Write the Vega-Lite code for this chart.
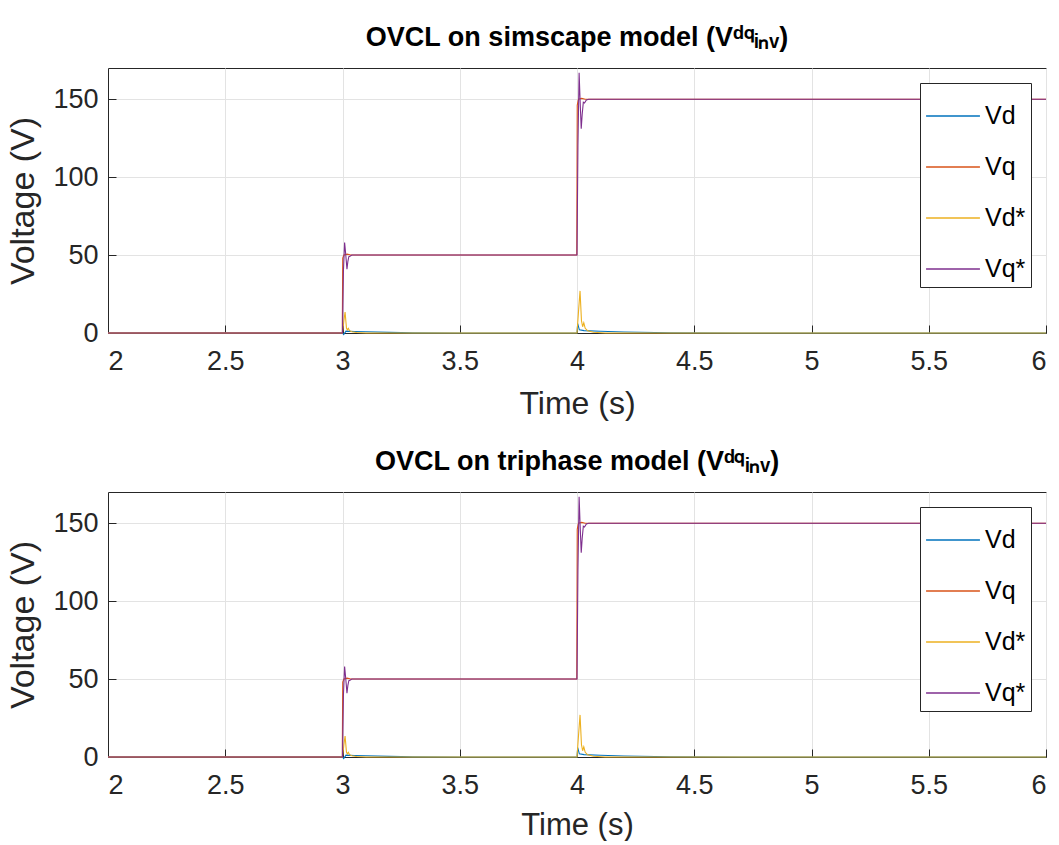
{
  "$schema": "https://vega.github.io/schema/vega-lite/v6.json",
  "background": "white",
  "padding": {"left": 6, "top": 23, "right": 3, "bottom": 0},
  "spacing": 27,
  "config": {
    "font": "Liberation Sans",
    "view": {"stroke": "#262626", "strokeWidth": 1},
    "axis": {
      "labelFont": "Liberation Sans",
      "titleFont": "Liberation Sans",
      "labelFontSize": 27,
      "titleFontSize": 32,
      "labelColor": "#262626",
      "titleColor": "#262626",
      "titleFontWeight": "normal",
      "domainColor": "#262626",
      "gridColor": "#e3e3e3",
      "tickColor": "#262626",
      "ticks": true,
      "tickSize": -8
    },
    "title": {"font": "Liberation Sans", "fontSize": 27, "fontWeight": "bold", "color": "#000000", "anchor": "middle", "frame": "group", "offset": 16},
    "legend": {
      "orient": "top-right",
      "offset": 15,
      "strokeColor": "#262626",
      "fillColor": "white",
      "padding": 5,
      "symbolType": "stroke",
      "symbolSize": 2900,
      "symbolStrokeWidth": 1.3,
      "labelFont": "Liberation Sans",
      "labelFontSize": 25,
      "labelColor": "#000000",
      "rowPadding": 10,
      "labelOffset": 4,
      "title": null
    }
  },
  "resolve": {"scale": {"color": "independent"}, "legend": {"color": "independent"}},
  "datasets": {
    "vdq": [
      {"t": 2, "s": "Vd", "v": 0},
      {"t": 3.0, "s": "Vd", "v": 0},
      {"t": 3.005, "s": "Vd", "v": -1},
      {"t": 3.015, "s": "Vd", "v": 1.2},
      {"t": 3.05, "s": "Vd", "v": 1},
      {"t": 3.1, "s": "Vd", "v": 0.8},
      {"t": 3.2, "s": "Vd", "v": 0.4},
      {"t": 3.3, "s": "Vd", "v": 0.1},
      {"t": 3.5, "s": "Vd", "v": 0},
      {"t": 4.0, "s": "Vd", "v": 0},
      {"t": 4.003, "s": "Vd", "v": 6},
      {"t": 4.01, "s": "Vd", "v": 2},
      {"t": 4.03, "s": "Vd", "v": 1.5},
      {"t": 4.1, "s": "Vd", "v": 1.1},
      {"t": 4.2, "s": "Vd", "v": 0.6},
      {"t": 4.4, "s": "Vd", "v": 0.2},
      {"t": 4.7, "s": "Vd", "v": 0},
      {"t": 6, "s": "Vd", "v": 0},

      {"t": 2, "s": "Vq", "v": 0},
      {"t": 2.999, "s": "Vq", "v": 0},
      {"t": 3.001, "s": "Vq", "v": 48},
      {"t": 3.006, "s": "Vq", "v": 50},
      {"t": 3.02, "s": "Vq", "v": 50.6},
      {"t": 3.035, "s": "Vq", "v": 50},
      {"t": 3.999, "s": "Vq", "v": 50},
      {"t": 4.001, "s": "Vq", "v": 146},
      {"t": 4.006, "s": "Vq", "v": 150},
      {"t": 4.02, "s": "Vq", "v": 150.5},
      {"t": 4.035, "s": "Vq", "v": 150},
      {"t": 6, "s": "Vq", "v": 150},

      {"t": 2, "s": "Vd*", "v": 0},
      {"t": 3.0, "s": "Vd*", "v": 0},
      {"t": 3.006, "s": "Vd*", "v": 8},
      {"t": 3.011, "s": "Vd*", "v": 13.5},
      {"t": 3.017, "s": "Vd*", "v": 3},
      {"t": 3.021, "s": "Vd*", "v": 2},
      {"t": 3.025, "s": "Vd*", "v": 3},
      {"t": 3.03, "s": "Vd*", "v": 1.5},
      {"t": 3.04, "s": "Vd*", "v": 0.8},
      {"t": 3.06, "s": "Vd*", "v": 0.3},
      {"t": 3.1, "s": "Vd*", "v": 0},
      {"t": 4.0, "s": "Vd*", "v": 0},
      {"t": 4.007, "s": "Vd*", "v": 15},
      {"t": 4.013, "s": "Vd*", "v": 27},
      {"t": 4.019, "s": "Vd*", "v": 8},
      {"t": 4.024, "s": "Vd*", "v": 4},
      {"t": 4.029, "s": "Vd*", "v": 6.5},
      {"t": 4.035, "s": "Vd*", "v": 3},
      {"t": 4.045, "s": "Vd*", "v": 1.5},
      {"t": 4.07, "s": "Vd*", "v": 0.5},
      {"t": 4.12, "s": "Vd*", "v": 0},
      {"t": 6, "s": "Vd*", "v": 0},

      {"t": 2, "s": "Vq*", "v": 0},
      {"t": 3.0, "s": "Vq*", "v": 0},
      {"t": 3.004, "s": "Vq*", "v": 40},
      {"t": 3.009, "s": "Vq*", "v": 58},
      {"t": 3.014, "s": "Vq*", "v": 50},
      {"t": 3.019, "s": "Vq*", "v": 41},
      {"t": 3.023, "s": "Vq*", "v": 46},
      {"t": 3.027, "s": "Vq*", "v": 49},
      {"t": 3.032, "s": "Vq*", "v": 49.2},
      {"t": 3.04, "s": "Vq*", "v": 50},
      {"t": 4.0, "s": "Vq*", "v": 50},
      {"t": 4.004, "s": "Vq*", "v": 120},
      {"t": 4.009, "s": "Vq*", "v": 167},
      {"t": 4.013, "s": "Vq*", "v": 150},
      {"t": 4.018, "s": "Vq*", "v": 131},
      {"t": 4.022, "s": "Vq*", "v": 140},
      {"t": 4.027, "s": "Vq*", "v": 148},
      {"t": 4.032, "s": "Vq*", "v": 147.5},
      {"t": 4.04, "s": "Vq*", "v": 149.5},
      {"t": 4.05, "s": "Vq*", "v": 150},
      {"t": 6, "s": "Vq*", "v": 150}
    ]
  },
  "vconcat": [
    {
      "title": {"text": "OVCL on simscape model (Vᵈ𐞥ᵢₙᵥ)"},
      "width": 938,
      "height": 265,
      "data": {"name": "vdq"},
      "mark": {"type": "line", "strokeWidth": 1.1},
      "encoding": {
        "x": {"field": "t", "type": "quantitative", "title": "Time (s)",
              "scale": {"domain": [2, 6], "nice": false, "zero": false},
              "axis": {"values": [2, 2.5, 3, 3.5, 4, 4.5, 5, 5.5, 6], "format": "~g", "labelPadding": 23, "titlePadding": 14}},
        "y": {"field": "v", "type": "quantitative", "title": "Voltage (V)",
              "scale": {"domain": [0, 170], "nice": false},
              "axis": {"values": [0, 50, 100, 150], "labelPadding": 18, "titlePadding": 12, "titleFontSize": 34}},
        "color": {"field": "s", "type": "nominal",
                  "scale": {"domain": ["Vd", "Vq", "Vd*", "Vq*"], "range": ["#0072BD", "#D95319", "#EDB120", "#7E2F8E"]},
                  "legend": {}}
      }
    },
    {
      "title": {"text": "OVCL on triphase model (Vᵈ𐞥ᵢₙᵥ)"},
      "width": 938,
      "height": 265,
      "data": {"name": "vdq"},
      "mark": {"type": "line", "strokeWidth": 1.1},
      "encoding": {
        "x": {"field": "t", "type": "quantitative", "title": "Time (s)",
              "scale": {"domain": [2, 6], "nice": false, "zero": false},
              "axis": {"values": [2, 2.5, 3, 3.5, 4, 4.5, 5, 5.5, 6], "format": "~g", "labelPadding": 23, "titlePadding": 12, "titleFontSize": 31}},
        "y": {"field": "v", "type": "quantitative", "title": "Voltage (V)",
              "scale": {"domain": [0, 170], "nice": false},
              "axis": {"values": [0, 50, 100, 150], "labelPadding": 18, "titlePadding": 12, "titleFontSize": 34}},
        "color": {"field": "s", "type": "nominal",
                  "scale": {"domain": ["Vd", "Vq", "Vd*", "Vq*"], "range": ["#0072BD", "#D95319", "#EDB120", "#7E2F8E"]},
                  "legend": {}}
      }
    }
  ]
}
